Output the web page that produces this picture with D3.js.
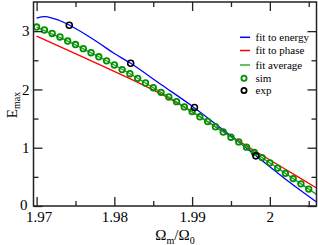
<!DOCTYPE html>
<html>
<head>
<meta charset="utf-8">
<script src="https://cdn.jsdelivr.net/npm/d3@7"></script>
<style>
  body { margin: 0; background: #fff; }
  svg text { font-family: "Liberation Serif", "Times New Roman", Times, serif; fill: #000; }
</style>
</head>
<body>
<div id="chart"></div>
<script>
var svgWidth = 318;
var svgHeight = 245;

// plot frame in pixels
var margin = { top: 2, right: 1.5, bottom: 39, left: 33.5 };
var chartWidth = svgWidth - margin.left - margin.right;
var chartHeight = svgHeight - margin.top - margin.bottom;

// axis ticks
var xMajor = [1.97, 1.98, 1.99, 2.00];
var xMinor = [1.975, 1.985, 1.995, 2.005];
var xTickLabels = ["1.97", "1.98", "1.99", "2"];
var yMajor = [0, 1, 2, 3];
var yMinor = [0.5, 1.5, 2.5];

// fit to energy (blue)
var energyX = [1.9700, 1.9711, 1.9721, 1.9731, 1.9742, 1.9762, 1.9781, 1.9800, 1.9821, 1.9861, 1.9901, 1.9941, 1.9981, 2.0019, 2.0060];
var energyY = [3.225, 3.248, 3.217, 3.174, 3.105, 2.951, 2.788, 2.616, 2.448, 2.076, 1.704, 1.295, 0.875, 0.472, 0.069];

// fit to phase (red)
var phaseX = [1.970, 1.982, 1.986, 1.990, 1.994, 1.998, 2.002, 2.006];
var phaseY = [2.916, 2.185, 1.921, 1.613, 1.278, 0.952, 0.630, 0.309];

// fit average (green line)
var avgX = [1.970, 1.974, 1.978, 1.982, 1.986, 1.990, 1.994, 1.998, 2.002, 2.006];
var avgY = [3.07, 2.83, 2.56, 2.27, 1.95, 1.62, 1.27, 0.92, 0.56, 0.20];

// sim (green circles)
var simX = [1.970, 1.971, 1.972, 1.973, 1.974, 1.975, 1.976, 1.977, 1.978, 1.979,
            1.980, 1.981, 1.982, 1.983, 1.984, 1.985, 1.986, 1.987, 1.988, 1.989,
            1.990, 1.991, 1.992, 1.993, 1.994, 1.995, 1.996, 1.997, 1.998, 1.999,
            2.000, 2.001, 2.002, 2.003, 2.004, 2.005];
var simY = [3.07, 3.02, 2.96, 2.90, 2.83, 2.77, 2.70, 2.63, 2.56, 2.49,
            2.42, 2.34, 2.27, 2.19, 2.11, 2.03, 1.95, 1.87, 1.79, 1.70,
            1.62, 1.53, 1.45, 1.36, 1.27, 1.18, 1.10, 1.01, 0.92, 0.83,
            0.74, 0.65, 0.56, 0.47, 0.38, 0.29];

// exp (black circles)
var expX = [1.9742, 1.9821, 1.9903, 1.9982];
var expY = [3.10, 2.45, 1.69, 0.86];

// legend
var legendLabels = ["fit to energy", "fit to phase", "fit average", "sim", "exp"];
var legendColors = ["#0000ff", "#ff0000", "#33aa33", "#009000", "#000000"];

var serif = "'Liberation Serif', 'Times New Roman', Times, serif";

var svg = d3.select("#chart")
  .append("svg")
  .attr("width", svgWidth)
  .attr("height", svgHeight)
  .attr("font-family", serif);

var chartGroup = svg.append("g")
  .attr("transform", `translate(${margin.left}, ${margin.top})`);

var xScale = d3.scaleLinear()
  .domain([1.9696, 2.006])
  .range([0, chartWidth]);

var yScale = d3.scaleLinear()
  .domain([0, 3.5])
  .range([chartHeight, 0]);

// clip the curves to the frame
svg.append("defs").append("clipPath")
  .attr("id", "clip")
  .append("rect")
  .attr("width", chartWidth)
  .attr("height", chartHeight);

var zip = (xs, ys) => xs.map((x, i) => ({ x: x, y: ys[i] }));

var line = d3.line()
  .x(d => xScale(d.x))
  .y(d => yScale(d.y))
  .curve(d3.curveCatmullRom);

var curves = chartGroup.append("g").attr("clip-path", "url(#clip)");

curves.append("path")
  .attr("d", line(zip(phaseX, phaseY)))
  .attr("fill", "none")
  .attr("stroke", "#ff0000")
  .attr("stroke-width", 1.3);

curves.append("path")
  .attr("d", line(zip(energyX, energyY)))
  .attr("fill", "none")
  .attr("stroke", "#0000ff")
  .attr("stroke-width", 1.3);

curves.append("path")
  .attr("d", line(zip(avgX, avgY)))
  .attr("fill", "none")
  .attr("stroke", "#22a022")
  .attr("stroke-width", 1.3);

curves.selectAll("circle.sim")
  .data(zip(simX, simY))
  .enter()
  .append("circle")
  .attr("class", "sim")
  .attr("cx", d => xScale(d.x))
  .attr("cy", d => yScale(d.y))
  .attr("r", 2.8)
  .attr("fill", "none")
  .attr("stroke", "#009000")
  .attr("stroke-width", 1.8);

curves.selectAll("circle.exp")
  .data(zip(expX, expY))
  .enter()
  .append("circle")
  .attr("class", "exp")
  .attr("cx", d => xScale(d.x))
  .attr("cy", d => yScale(d.y))
  .attr("r", 3)
  .attr("fill", "none")
  .attr("stroke", "#000")
  .attr("stroke-width", 1.6);

// axes, ticks on all four sides pointing inward
var majorLen = 9, minorLen = 5;

var bottomAxis = d3.axisBottom(xScale).tickValues(xMajor).tickSizeInner(-majorLen).tickSizeOuter(0)
  .tickPadding(5).tickFormat((d, i) => xTickLabels[i]);
var bottomMinor = d3.axisBottom(xScale).tickValues(xMinor).tickSizeInner(-minorLen).tickSizeOuter(0).tickFormat("");
var topAxis = d3.axisTop(xScale).tickValues(xMajor).tickSizeInner(-majorLen).tickSizeOuter(0).tickFormat("");
var topMinor = d3.axisTop(xScale).tickValues(xMinor).tickSizeInner(-minorLen).tickSizeOuter(0).tickFormat("");
var leftAxis = d3.axisLeft(yScale).tickValues(yMajor).tickSizeInner(-majorLen).tickSizeOuter(0)
  .tickPadding(4).tickFormat(d3.format("d"));
var leftMinor = d3.axisLeft(yScale).tickValues(yMinor).tickSizeInner(-minorLen).tickSizeOuter(0).tickFormat("");
var rightAxis = d3.axisRight(yScale).tickValues(yMajor).tickSizeInner(-majorLen).tickSizeOuter(0).tickFormat("");
var rightMinor = d3.axisRight(yScale).tickValues(yMinor).tickSizeInner(-minorLen).tickSizeOuter(0).tickFormat("");

var axes = [
  [bottomAxis, `translate(0, ${chartHeight})`, "x"],
  [bottomMinor, `translate(0, ${chartHeight})`],
  [topAxis, "translate(0, 0)"],
  [topMinor, "translate(0, 0)"],
  [leftAxis, "translate(0, 0)", "y"],
  [leftMinor, "translate(0, 0)"],
  [rightAxis, `translate(${chartWidth}, 0)`],
  [rightMinor, `translate(${chartWidth}, 0)`]
];

axes.forEach(function(a) {
  var g = chartGroup.append("g")
    .attr("transform", a[1])
    .call(a[0])
    .attr("font-family", serif)
    .attr("font-size", 15);
  g.select(".domain").remove();
  g.selectAll("line").attr("stroke", "#222").attr("stroke-width", 1.3);
  g.selectAll("text").attr("fill", "#000");
  // keep the corner labels "0" and "1.97" apart
  if (a[2] === "x") g.selectAll("text").filter(d => d === xMajor[0]).attr("dx", 2);
  if (a[2] === "y") g.selectAll("text").filter(d => d === 0).attr("dx", -2).attr("dy", "0.2em");
});

// frame
chartGroup.append("rect")
  .attr("width", chartWidth)
  .attr("height", chartHeight)
  .attr("fill", "none")
  .attr("stroke", "#222")
  .attr("stroke-width", 1.5);

// axis titles
var yTitle = svg.append("text")
  .attr("transform", "translate(17, 105) rotate(-90)")
  .attr("text-anchor", "middle")
  .attr("font-size", 15);
yTitle.append("tspan").text("E");
yTitle.append("tspan").attr("dy", 3).attr("font-size", 10).text("max");

var xTitle = svg.append("text")
  .attr("x", margin.left + chartWidth / 2)
  .attr("y", 240)
  .attr("text-anchor", "middle")
  .attr("font-size", 15);
xTitle.append("tspan").text("Ω");
xTitle.append("tspan").attr("dy", 3.5).attr("font-size", 10).text("m");
xTitle.append("tspan").attr("dy", -3.5).text("/Ω");
xTitle.append("tspan").attr("dy", 3.5).attr("font-size", 10).text("0");

// legend
var legendRows = [37.3, 50.5, 65, 78.3, 90.5];
var legend = svg.append("g");
legendLabels.forEach(function(label, i) {
  var yPos = legendRows[i];
  if (i < 3) {
    legend.append("line")
      .attr("x1", 240).attr("x2", 250)
      .attr("y1", yPos).attr("y2", yPos)
      .attr("stroke", legendColors[i])
      .attr("stroke-width", 1.5);
  } else {
    legend.append("circle")
      .attr("cx", 244).attr("cy", yPos)
      .attr("r", 2.6)
      .attr("fill", "none")
      .attr("stroke", legendColors[i])
      .attr("stroke-width", 1.8);
  }
  legend.append("text")
    .attr("x", 255.5)
    .attr("y", yPos + 3.5)
    .attr("font-size", 11)
    .text(label);
});
</script>
</body>
</html>
